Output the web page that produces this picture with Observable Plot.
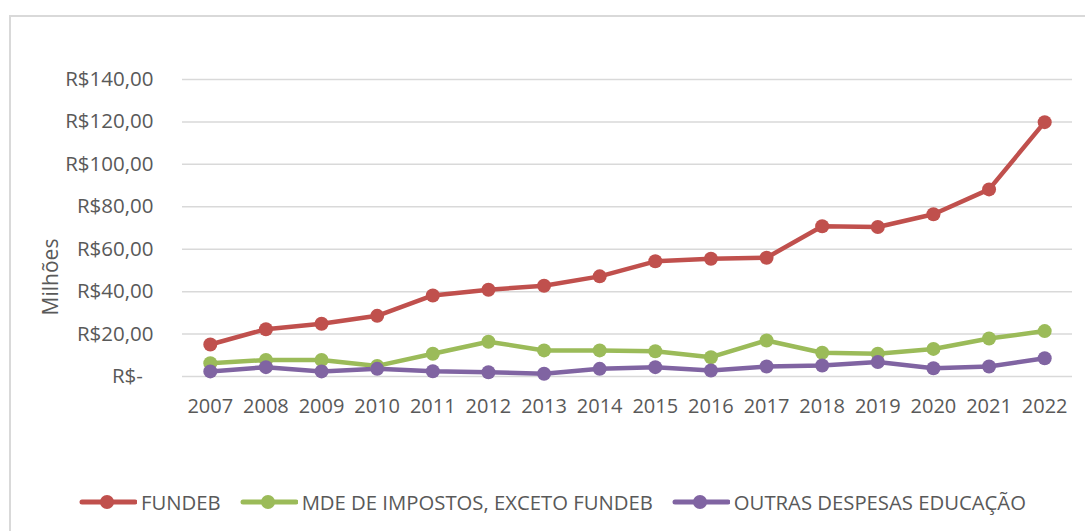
<!DOCTYPE html>
<html>
<head>
<meta charset="utf-8">
<script src="https://cdn.jsdelivr.net/npm/d3@7"></script>
<script src="https://cdn.jsdelivr.net/npm/@observablehq/plot@0.6"></script>
<style>
  html, body { margin: 0; padding: 0; background: #fff; overflow: hidden; }
  #wrap { position: relative; width: 1085px; height: 531px; overflow: hidden; font-family: "Open Sans", sans-serif; }
  #frame { position: absolute; left: 9px; top: 15px; width: 1200px; height: 700px; border: 2px solid #d9d9d9; box-sizing: border-box; }
  #chart { position: absolute; left: 0; top: 0; }
  #ylabel { position: absolute; left: 50px; top: 277px; transform: translate(-50%, -50%) rotate(-90deg); color: #595959; font-size: 21px; white-space: nowrap; line-height: 1; }
  #legend { position: absolute; left: 79px; top: 488px; display: flex; align-items: center; gap: 19px; color: #595959; font-size: 20.3px; }
  .item { display: flex; align-items: center; }
  .item span { margin-left: 4px; }
</style>
</head>
<body>
<div id="wrap">
  <div id="frame"></div>
  <div id="chart"></div>
  <div id="ylabel"></div>
  <div id="legend"></div>
</div>
<script>
const years = ["2007","2008","2009","2010","2011","2012","2013","2014","2015","2016","2017","2018","2019","2020","2021","2022"];
const seriesNames = ["FUNDEB", "MDE DE IMPOSTOS, EXCETO FUNDEB", "OUTRAS DESPESAS EDUCAÇÃO"];
const seriesColors = ["#C0504D", "#9BBB59", "#8064A2"];
const fundeb = [15.1, 22.3, 24.9, 28.6, 38.2, 40.9, 42.8, 47.2, 54.3, 55.5, 56.0, 70.8, 70.5, 76.5, 88.2, 119.9];
const mde    = [6.3, 7.8, 7.8, 5.0, 10.7, 16.4, 12.3, 12.3, 11.9, 9.1, 17.0, 11.2, 10.7, 13.0, 17.9, 21.4];
const outras = [2.4, 4.4, 2.4, 3.6, 2.5, 2.0, 1.3, 3.6, 4.4, 2.8, 4.7, 5.2, 6.8, 3.9, 4.7, 8.6];
const yTicks = [0, 20, 40, 60, 80, 100, 120, 140];
const yAxisLabel = "Milhões";

const seriesValues = [fundeb, mde, outras];
const data = [];
seriesNames.forEach((s, i) => years.forEach((yr, j) => data.push({series: s, year: yr, value: seriesValues[i][j]})));

const fmt = v => v === 0 ? "R$-\u00A0\u00A0" : "R$" + v.toFixed(2).replace(".", ",");

const chart = Plot.plot({
  width: 1085,
  height: 470,
  marginLeft: 182,
  marginRight: 13,
  marginTop: 79,
  marginBottom: 94,
  style: {fontFamily: "Open Sans, sans-serif", fontSize: "20px", color: "#595959", background: "transparent", overflow: "visible"},
  x: {type: "point", domain: years, padding: 0.5, round: false, label: null},
  y: {domain: [0, 140], label: null},
  color: {domain: seriesNames, range: seriesColors},
  marks: [
    Plot.ruleY(yTicks, {stroke: "#d9d9d9", strokeWidth: 1.5}),
    Plot.axisX({tickSize: 0, tickPadding: 22, fontSize: 20, fill: "#595959", label: null}),
    Plot.axisY({ticks: yTicks, tickSize: 0, tickPadding: 29, tickFormat: fmt, fontSize: 20.5, fill: "#595959", label: null}),
    Plot.line(data, {x: "year", y: "value", z: "series", stroke: "series", strokeWidth: 4.5}),
    Plot.dot(data, {x: "year", y: "value", fill: "series", r: 7, stroke: "none"})
  ]
});
document.getElementById("chart").appendChild(chart);
document.getElementById("ylabel").textContent = yAxisLabel;

const legend = document.getElementById("legend");
seriesNames.forEach((s, i) => {
  const item = document.createElement("div");
  item.className = "item";
  item.innerHTML = `<svg width="58" height="20"><line x1="3" x2="56" y1="10" y2="10" stroke="${seriesColors[i]}" stroke-width="5" stroke-linecap="round"/><circle cx="28" cy="10" r="7" fill="${seriesColors[i]}"/></svg><span>${s}</span>`;
  legend.appendChild(item);
});
</script>
</body>
</html>
